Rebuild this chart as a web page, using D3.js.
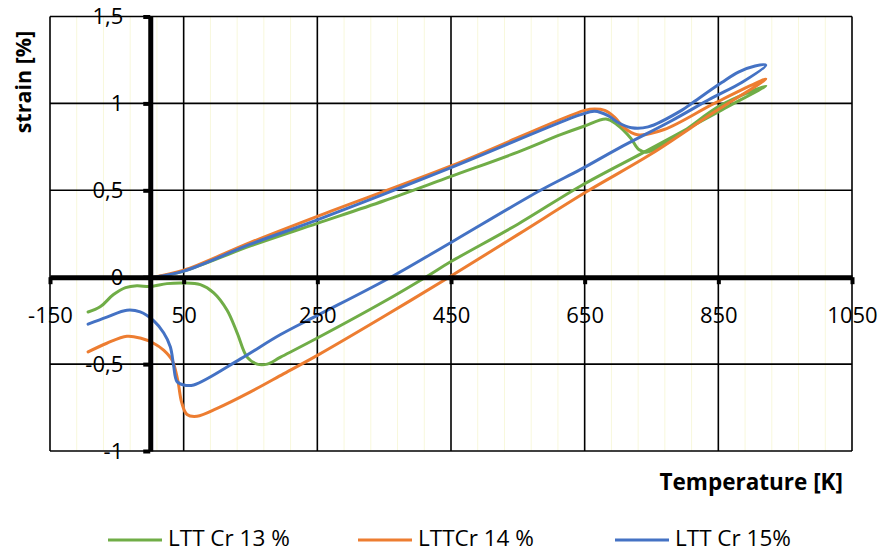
<!DOCTYPE html>
<html>
<head>
<meta charset="utf-8">
<script src="https://cdn.jsdelivr.net/npm/d3@7"></script>
<style>
  body { margin: 0; background: #fff; }
  svg text { font-family: "Open Sans", "Liberation Sans", sans-serif; fill: #000; }
</style>
</head>
<body>
<div id="chart"></div>
<script>
// [temperature, strain], heating then cooling
const cr13 = [
  [5, 0], [50, 0.035], [150, 0.18], [250, 0.31], [350, 0.44], [450, 0.58], [550, 0.72],
  [614, 0.82], [650, 0.87], [682, 0.91], [699, 0.876], [719, 0.8], [731, 0.735], [744, 0.72],
  [794, 0.83], [854, 0.99], [921, 1.1],
  [854, 0.96], [744, 0.73], [644, 0.525], [550, 0.305], [450, 0.09], [412, 0], [350, -0.14],
  [250, -0.35], [195, -0.46], [175, -0.5], [160, -0.5], [145, -0.46], [130, -0.32],
  [115, -0.19], [95, -0.09], [75, -0.043], [50, -0.033], [25, -0.037], [0, -0.054],
  [-20, -0.049], [-37, -0.06], [-55, -0.1], [-75, -0.17], [-93, -0.2]
];
const cr14 = [
  [5, 0], [50, 0.04], [150, 0.2], [250, 0.35], [450, 0.64], [650, 0.96], [665, 0.968],
  [680, 0.96], [695, 0.92], [709, 0.86], [729, 0.82], [769, 0.85], [844, 1.0], [921, 1.14],
  [844, 0.95], [750, 0.71], [652, 0.49], [550, 0.245], [447, 0], [350, -0.225], [250, -0.45],
  [200, -0.555], [150, -0.66], [100, -0.755], [70, -0.8], [55, -0.79], [47, -0.72], [41, -0.59],
  [33, -0.48], [20, -0.42], [5, -0.38], [-15, -0.35], [-35, -0.34], [-65, -0.38], [-93, -0.43]
];
const cr15 = [
  [5, 0], [50, 0.035], [150, 0.19], [250, 0.33], [450, 0.63], [644, 0.935], [665, 0.955],
  [685, 0.93], [700, 0.89], [720, 0.86], [745, 0.865], [795, 0.96], [810, 1.0], [855, 1.12],
  [880, 1.18], [905, 1.215], [921, 1.22],
  [885, 1.12], [840, 1.03], [780, 0.9], [700, 0.74], [644, 0.62], [584, 0.5], [450, 0.2],
  [360, 0], [250, -0.22], [195, -0.33], [135, -0.47], [65, -0.62], [50, -0.62], [40, -0.6],
  [35, -0.51], [30, -0.4], [20, -0.32], [5, -0.25], [-15, -0.2], [-35, -0.19], [-65, -0.23],
  [-93, -0.27]
];

const seriesNames = ["LTT Cr 13 %", "LTTCr 14 %", "LTT Cr 15%"];
const seriesColors = ["#70ad47", "#ed7d31", "#4472c4"];
const xTicks = [-150, 50, 250, 450, 650, 850, 1050];
const xMinorTicks = d3.range(-150, 1051, 40);
const yTicks = [-1, -0.5, 0, 0.5, 1, 1.5];

const width = 883, height = 553;
const svg = d3.select("#chart").append("svg")
  .attr("width", width).attr("height", height);

const x = d3.scaleLinear().domain([-150, 1050]).range([50, 852]);
const y = d3.scaleLinear().domain([-1, 1.5]).range([451, 16.5]);

// minor vertical grid (very faint yellow)
svg.append("g").selectAll("line")
  .data(xMinorTicks.filter(d => !xTicks.includes(d)))
  .join("line")
  .attr("x1", d => x(d)).attr("x2", d => x(d))
  .attr("y1", y(1.5)).attr("y2", y(-1))
  .attr("stroke", "#f8f8dc").attr("stroke-width", 1);

// major grid
const grid = svg.append("g").attr("stroke", "#000").attr("stroke-width", 1.6);
grid.selectAll("line.v").data(xTicks).join("line").attr("class", "v")
  .attr("x1", d => x(d)).attr("x2", d => x(d))
  .attr("y1", y(1.5)).attr("y2", y(-1));
grid.selectAll("line.h").data(yTicks).join("line").attr("class", "h")
  .attr("x1", x(-150)).attr("x2", x(1050))
  .attr("y1", d => y(d)).attr("y2", d => y(d));

// series
const line = d3.line()
  .x(d => x(d[0])).y(d => y(d[1]))
  .curve(d3.curveCatmullRom.alpha(0.5));

[cr13, cr14, cr15].forEach((data, i) => {
  svg.append("path")
    .datum(data)
    .attr("fill", "none")
    .attr("stroke", seriesColors[i])
    .attr("stroke-width", 3)
    .attr("stroke-linejoin", "round")
    .attr("stroke-linecap", "round")
    .attr("d", line);
});

// axes crossing at zero
const fmt = d => String(d).replace(".", ",");

const xAxis = svg.append("g")
  .attr("transform", `translate(0,${y(0)})`)
  .call(d3.axisBottom(x).tickValues(xTicks).tickSizeInner(7).tickSizeOuter(0).tickPadding(23).tickFormat(d => d));
const yAxis = svg.append("g")
  .attr("transform", `translate(${x(0)},0)`)
  .call(d3.axisLeft(y).tickValues(yTicks).tickSizeInner(7).tickSizeOuter(0).tickPadding(20).tickFormat(fmt));

[xAxis, yAxis].forEach(g => {
  g.select(".domain").attr("stroke", "#000").attr("stroke-width", 5);
  g.selectAll(".tick line").attr("stroke", "#000").attr("stroke-width", 4);
  g.selectAll(".tick text").attr("font-size", 22).attr("fill", "#000")
    .style("font-family", "'Open Sans', sans-serif");
});

// axis titles
svg.append("text")
  .attr("transform", "translate(31,82) rotate(-90)")
  .attr("text-anchor", "middle")
  .attr("font-size", 21.5).attr("font-weight", "bold")
  .text("strain [%]");

svg.append("text")
  .attr("x", 843).attr("y", 490)
  .attr("text-anchor", "end")
  .attr("font-size", 22.5).attr("font-weight", "bold")
  .text("Temperature [K]");

// legend
const legendX = [108, 358, 615];
const legend = svg.append("g");
seriesNames.forEach((name, i) => {
  legend.append("line")
    .attr("x1", legendX[i]).attr("x2", legendX[i] + 54)
    .attr("y1", 540).attr("y2", 540)
    .attr("stroke", seriesColors[i]).attr("stroke-width", 3);
  legend.append("text")
    .attr("x", legendX[i] + 60).attr("y", 546)
    .attr("font-size", 22.5)
    .text(name);
});
</script>
</body>
</html>
